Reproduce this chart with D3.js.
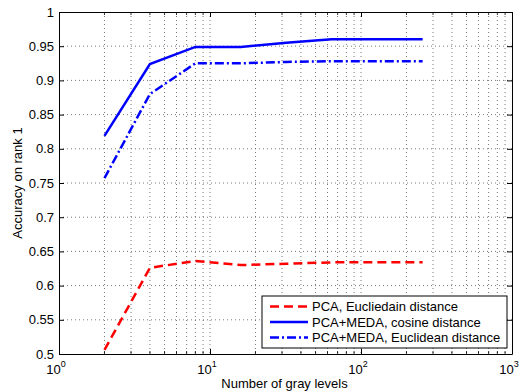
<!DOCTYPE html>
<html>
<head>
<meta charset="utf-8">
<script src="https://cdn.jsdelivr.net/npm/d3@7"></script>
<style>
  body { margin: 0; background: #fff; }
  text { font-family: "Liberation Sans", Arial, sans-serif; }
</style>
</head>
<body>
<div id="chart"></div>
<script>
// Data
var grayLevels = [2, 4, 8, 16, 32, 64, 128, 256];
var pcaEuclid = [0.506, 0.626, 0.636, 0.630, 0.632, 0.634, 0.634, 0.634];
var medaCosine = [0.819, 0.924, 0.949, 0.949, 0.955, 0.960, 0.960, 0.960];
var medaEuclid = [0.757, 0.880, 0.925, 0.925, 0.927, 0.928, 0.928, 0.928];
var seriesNames = ["PCA, Eucliedain distance", "PCA+MEDA, cosine distance", "PCA+MEDA, Euclidean distance"];
var yTicks = [0.5, 0.55, 0.6, 0.65, 0.7, 0.75, 0.8, 0.85, 0.9, 0.95, 1];
var xDecades = [0, 1, 2, 3];

var svgWidth = 522;
var svgHeight = 392;
var margin = { top: 12, right: 10, bottom: 38, left: 59 };
var chartWidth = 512 - margin.left;
var chartHeight = 354 - margin.top;
var fontSize = 13;

var svg = d3.select("#chart")
    .append("svg")
    .attr("width", svgWidth)
    .attr("height", svgHeight);

var chartGroup = svg.append("g")
    .attr("transform", `translate(${margin.left}, ${margin.top})`);

var x = d3.scaleLog().domain([1, 1000]).range([0, chartWidth]);
var y = d3.scaleLinear().domain([0.5, 1]).range([chartHeight, 0]);

// minor log positions for the grid
var minorX = [];
xDecades.slice(0, 3).forEach(function(e) {
    for (var k = 2; k <= 9; k++) minorX.push(k * Math.pow(10, e));
});

var grid = chartGroup.append("g")
    .attr("stroke", "#555")
    .attr("stroke-width", 0.8)
    .attr("stroke-dasharray", "1,3");

grid.selectAll("line.gx")
    .data(minorX.concat([10, 100]))
    .enter().append("line")
    .attr("x1", d => x(d)).attr("x2", d => x(d))
    .attr("y1", 0).attr("y2", chartHeight);

grid.selectAll("line.gy")
    .data(yTicks.slice(1, -1))
    .enter().append("line")
    .attr("y1", d => y(d)).attr("y2", d => y(d))
    .attr("x1", 0).attr("x2", chartWidth);

// axes with inward ticks
var xAxisBottom = d3.axisBottom(x).tickValues(xDecades.map(e => Math.pow(10, e)))
    .tickSizeInner(-5).tickSizeOuter(0).tickFormat("");
var xAxisTop = d3.axisTop(x).tickValues(xDecades.map(e => Math.pow(10, e)))
    .tickSizeInner(-5).tickSizeOuter(0).tickFormat("");
var yAxisLeft = d3.axisLeft(y).tickValues(yTicks).tickSizeInner(-5).tickSizeOuter(0).tickFormat("");
var yAxisRight = d3.axisRight(y).tickValues(yTicks).tickSizeInner(-5).tickSizeOuter(0).tickFormat("");

function styleAxis(g) {
    g.selectAll("path, line").attr("stroke", "#000").attr("stroke-width", 1);
}

chartGroup.append("g").attr("transform", `translate(0, ${chartHeight})`).call(xAxisBottom).call(styleAxis);
chartGroup.append("g").call(xAxisTop).call(styleAxis);
chartGroup.append("g").call(yAxisLeft).call(styleAxis);
chartGroup.append("g").attr("transform", `translate(${chartWidth}, 0)`).call(yAxisRight).call(styleAxis);

// minor x ticks, inward
[0, chartHeight].forEach(function(yy, i) {
    chartGroup.selectAll(null)
        .data(minorX)
        .enter().append("line")
        .attr("x1", d => x(d)).attr("x2", d => x(d))
        .attr("y1", yy).attr("y2", i === 0 ? yy + 3 : yy - 3)
        .attr("stroke", "#000").attr("stroke-width", 0.8);
});

// tick labels
chartGroup.selectAll("text.ylab")
    .data(yTicks)
    .enter().append("text")
    .attr("x", -5)
    .attr("y", d => y(d))
    .attr("dy", "0.36em")
    .attr("text-anchor", "end")
    .attr("font-size", fontSize)
    .text(d => d === 1 ? "1" : d3.format("")(d).replace(/0+$/, ""));

var xLab = chartGroup.selectAll("text.xlab")
    .data(xDecades)
    .enter().append("text")
    .attr("x", d => x(Math.pow(10, d)) - 3)
    .attr("y", chartHeight + 20)
    .attr("text-anchor", "middle")
    .attr("font-size", fontSize);
xLab.append("tspan").text("10");
xLab.append("tspan").attr("dy", -7).attr("font-size", 9).text(d => d);

// axis titles
svg.append("text")
    .attr("x", margin.left + chartWidth / 2 - 1)
    .attr("y", 388)
    .attr("text-anchor", "middle")
    .attr("font-size", fontSize)
    .text("Number of gray levels");

svg.append("text")
    .attr("transform", `translate(21.5, ${margin.top + chartHeight / 2}) rotate(-90)`)
    .attr("text-anchor", "middle")
    .attr("font-size", fontSize)
    .text("Accuracy on rank 1");

// lines
var series = [
    { values: pcaEuclid, color: "#ff0000", dash: "9,5" },
    { values: medaCosine, color: "#0000ff", dash: null },
    { values: medaEuclid, color: "#0000ff", dash: "9,3,2,3" }
];

var line = d3.line()
    .x((d, i) => x(grayLevels[i]))
    .y(d => y(d));

series.forEach(function(s) {
    chartGroup.append("path")
        .datum(s.values)
        .attr("d", line)
        .attr("fill", "none")
        .attr("stroke", s.color)
        .attr("stroke-width", 2.5)
        .attr("stroke-dasharray", s.dash);
});

// legend
var legend = svg.append("g").attr("transform", "translate(262, 296)");
legend.append("rect")
    .attr("width", 245).attr("height", 52)
    .attr("fill", "#fff").attr("stroke", "#000").attr("stroke-width", 1);

series.forEach(function(s, i) {
    var ly = 10.5 + i * 15.5;
    legend.append("line")
        .attr("x1", 8).attr("x2", 46)
        .attr("y1", ly).attr("y2", ly)
        .attr("stroke", s.color)
        .attr("stroke-width", 2.5)
        .attr("stroke-dasharray", s.dash);
    legend.append("text")
        .attr("x", 50).attr("y", ly)
        .attr("dy", "0.36em")
        .attr("font-size", fontSize)
        .text(seriesNames[i]);
});
</script>
</body>
</html>
